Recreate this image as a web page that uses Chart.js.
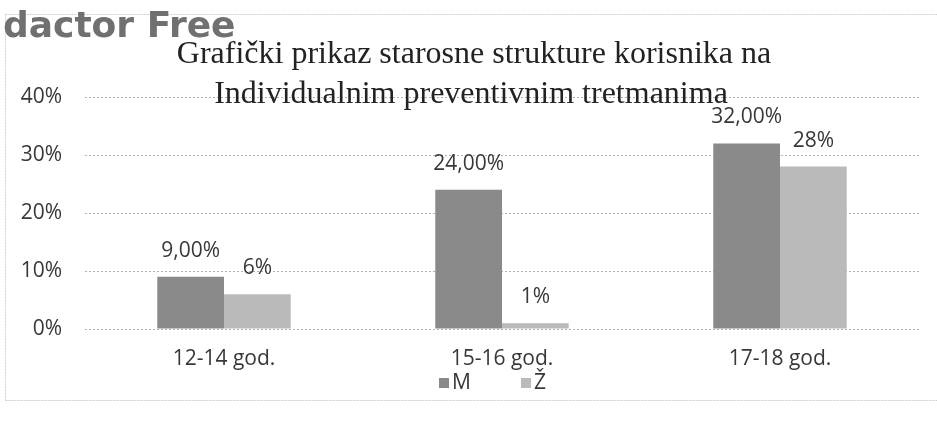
<!DOCTYPE html>
<html>
<head>
<meta charset="utf-8">
<script src="https://cdn.jsdelivr.net/npm/chart.js@4"></script>
<style>
  html, body { margin: 0; padding: 0; background: #ffffff; }
  #wrap { width: 937px; height: 421px; position: relative; }
</style>
</head>
<body>
<div id="wrap"><canvas id="c" width="937" height="421"></canvas></div>
<script>
// ---- data ----
const categories = ['12-14 god.', '15-16 god.', '17-18 god.'];
const seriesNames = ['M', 'Ž'];
const valuesM = [9, 24, 32];
const valuesZ = [6, 1, 28];
const labelsM = ['9,00%', '24,00%', '32,00%'];
const labelsZ = ['6%', '1%', '28%'];
const yTickLabels = ['0%', '10%', '20%', '30%', '40%'];
const titleLines = ['Grafički prikaz starosne strukture korisnika na', 'Individualnim preventivnim tretmanima'];
const watermark = 'dactor Free';

const colorM = '#8a8a8a';
const colorZ = '#bababa';
const textColor = '#383838';
const sansFont = "'Open Sans', 'DejaVu Sans', sans-serif";
const fontSize = 21;

const frame = {
  id: 'frame',
  beforeDraw(chart) {
    const ctx = chart.ctx;
    ctx.save();
    ctx.strokeStyle = '#cfcfcf';
    ctx.lineWidth = 1;
    ctx.setLineDash([2, 1]);
    ctx.beginPath();
    ctx.moveTo(5.5, 14.5); ctx.lineTo(937, 14.5);
    ctx.moveTo(5.5, 14.5); ctx.lineTo(5.5, 400.5);
    ctx.moveTo(5.5, 400.5); ctx.lineTo(937, 400.5);
    ctx.stroke();
    ctx.restore();
  }
};

const titleAndMarks = {
  id: 'titleAndMarks',
  afterDatasetsDraw(chart) {
    const ctx = chart.ctx;
    ctx.save();
    ctx.font = fontSize + "px " + sansFont;
    ctx.fillStyle = textColor;
    ctx.textAlign = 'center';
    ctx.textBaseline = 'middle';
    const lbls = [labelsM, labelsZ];
    chart.data.datasets.forEach((ds, di) => {
      chart.getDatasetMeta(di).data.forEach((el, i) => {
        ctx.fillText(lbls[di][i], el.x, el.y - 26);
      });
    });
    ctx.restore();
  },
  afterDraw(chart) {
    const ctx = chart.ctx;
    ctx.save();
    // title
    ctx.font = "32px 'Liberation Serif', 'DejaVu Serif', serif";
    ctx.fillStyle = '#222222';
    ctx.textAlign = 'center';
    ctx.textBaseline = 'alphabetic';
    ctx.fillText(titleLines[0], 474, 63);
    ctx.fillText(titleLines[1], 471, 103);
    // watermark
    ctx.font = "bold 36px 'DejaVu Sans', sans-serif";
    ctx.fillStyle = '#707070';
    ctx.textAlign = 'left';
    ctx.fillText(watermark, 3, 37);
    // legend
    ctx.font = fontSize + "px " + sansFont;
    ctx.textBaseline = 'middle';
    const items = [
      { text: chart.data.datasets[0].label, color: chart.data.datasets[0].backgroundColor, x: 439 },
      { text: chart.data.datasets[1].label, color: chart.data.datasets[1].backgroundColor, x: 521 }
    ];
    const ly = 383;
    items.forEach(it => {
      ctx.fillStyle = it.color;
      ctx.fillRect(it.x, ly - 5, 10, 10);
      ctx.fillStyle = textColor;
      ctx.fillText(it.text, it.x + 13, ly);
    });
    ctx.restore();
  }
};

new Chart(document.getElementById('c'), {
  type: 'bar',
  data: {
    labels: categories,
    datasets: [
      { label: seriesNames[0], data: valuesM, backgroundColor: colorM, categoryPercentage: 0.48, barPercentage: 1.0 },
      { label: seriesNames[1], data: valuesZ, backgroundColor: colorZ, categoryPercentage: 0.48, barPercentage: 1.0 }
    ]
  },
  options: {
    responsive: false,
    animation: false,
    devicePixelRatio: 1,
    layout: { padding: { top: 97, right: 18, bottom: 0, left: 0 } },
    plugins: {
      legend: { display: false },
      title: { display: false },
      tooltip: { enabled: false }
    },
    scales: {
      x: {
        grid: { display: false },
        border: { display: false },
        ticks: {
          color: textColor,
          font: { family: sansFont, size: fontSize },
          padding: 9,
          maxRotation: 0
        },
        afterFit(scale) { scale.height = 92; }
      },
      y: {
        min: 0,
        max: 40,
        grid: { color: '#aeb2b8', lineWidth: 1, drawTicks: false },
        border: { display: false, dash: [2, 2] },
        ticks: {
          stepSize: 10,
          padding: 23,
          color: textColor,
          font: { family: sansFont, size: fontSize },
          callback: (v, i) => yTickLabels[i]
        },
        afterFit(scale) { scale.width = 85; }
      }
    }
  },
  plugins: [frame, titleAndMarks]
});
</script>
</body>
</html>
